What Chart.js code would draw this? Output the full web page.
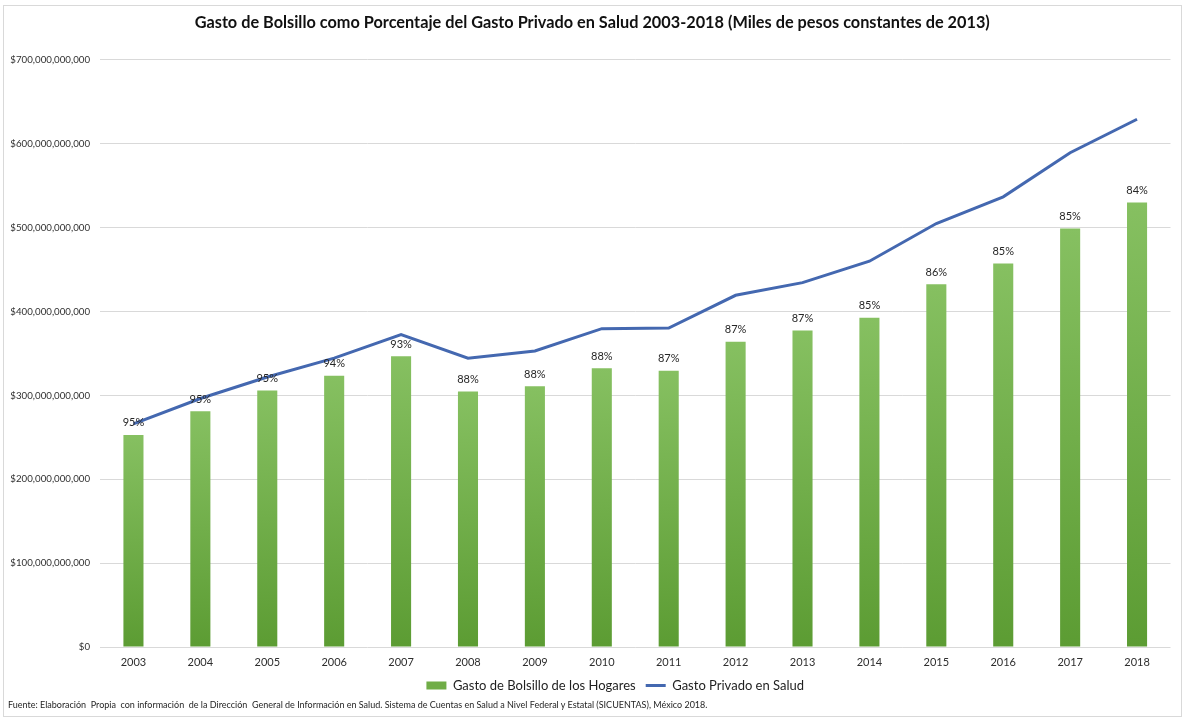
<!DOCTYPE html>
<html lang="es">
<head>
<meta charset="utf-8">
<title>Gasto de Bolsillo como Porcentaje del Gasto Privado en Salud 2003-2018</title>
<script src="https://cdn.jsdelivr.net/npm/chart.js@4.4.1/dist/chart.umd.min.js"></script>
<style>
  html, body { margin: 0; padding: 0; background: #ffffff; }
  body { width: 1185px; height: 719px; position: relative; overflow: hidden; font-family: Lato, "Noto Sans", sans-serif; }
  #frame { position: absolute; left: 3px; top: 5px; width: 1177px; height: 710px; border: 1px solid #d9d9d9; pointer-events: none; }
  #wrap { position: absolute; left: 0; top: 0; width: 1185px; height: 702px; }
  #fuente { position: absolute; left: 8px; top: 699px; font-size: 9px; color: #1f1f1f; white-space: pre; font-family: Lato, sans-serif; }
</style>
</head>
<body>
<div id="frame"></div>
<div id="wrap"><canvas id="chart"></canvas></div>
<div id="fuente">Fuente: Elaboración  Propia  con información  de la Dirección  General de Información en Salud. Sistema de Cuentas en Salud a Nivel Federal y Estatal (SICUENTAS), México 2018.</div>
<script>
// Años del periodo
const years = ['2003', '2004', '2005', '2006', '2007', '2008', '2009', '2010',
               '2011', '2012', '2013', '2014', '2015', '2016', '2017', '2018'];

// Gasto de bolsillo de los hogares (pesos constantes de 2013)
const gastoBolsillo = [252.9e9, 281.1e9, 306.0e9, 323.5e9, 346.8e9, 304.7e9, 311.0e9, 332.5e9,
                       329.4e9, 364.0e9, 377.5e9, 392.7e9, 432.5e9, 457.2e9, 499.0e9, 530.1e9];

// Gasto privado en salud (pesos constantes de 2013)
const gastoPrivado = [266.1e9, 296.3e9, 322.0e9, 344.5e9, 372.4e9, 344.4e9, 353.0e9, 379.6e9,
                      380.3e9, 419.4e9, 434.5e9, 460.0e9, 505.0e9, 536.8e9, 589.4e9, 629.3e9];

// Escala del eje de valores
const yMin = 0;
const yMax = 700e9;
const yStep = 100e9;

const FONT = 'Lato';
const TEXT = '#2e2e2e';
const GREEN_TOP = '#86c061';
const GREEN_BOTTOM = '#5c9c33';
const GREEN_MID = '#70ad47';
const BLUE = '#4468b0';

// Porcentaje que representa el gasto de bolsillo dentro del gasto privado
const porcentaje = gastoBolsillo.map((v, i) => Math.round(v / gastoPrivado[i] * 100) + '%');

const fmtPesos = v => '$' + Math.round(v).toLocaleString('en-US');

// Degradado vertical de cada barra
function barGradient(ctx) {
  const chart = ctx.chart;
  const area = chart.chartArea;
  if (!area || ctx.type !== 'data') return GREEN_MID;
  const yScale = chart.scales.y;
  const top = yScale.getPixelForValue(ctx.raw);
  const bottom = yScale.getPixelForValue(0);
  if (!isFinite(top) || bottom - top < 1) return GREEN_MID;
  const g = chart.ctx.createLinearGradient(0, top, 0, bottom);
  g.addColorStop(0, GREEN_TOP);
  g.addColorStop(1, GREEN_BOTTOM);
  return g;
}

// Etiquetas de porcentaje sobre las barras
const percentLabels = {
  id: 'percentLabels',
  afterDatasetsDraw(chart) {
    const meta = chart.getDatasetMeta(0);
    const c = chart.ctx;
    c.save();
    c.font = '11px ' + FONT;
    c.fillStyle = '#262626';
    c.textAlign = 'center';
    c.textBaseline = 'middle';
    meta.data.forEach((bar, i) => {
      c.fillText(porcentaje[i], bar.x, bar.y - 12);
    });
    c.restore();
  }
};

// Título y leyenda centrados con un ligero desplazamiento a la derecha
const blockOffset = {
  id: 'blockOffset',
  afterLayout(chart) {
    if (chart.legend) chart.legend.left = 60;
    if (chart.titleBlock) chart.titleBlock.left = 14;
  }
};

new Chart(document.getElementById('chart'), {
  type: 'bar',
  data: {
    labels: years,
    datasets: [
      {
        type: 'bar',
        label: 'Gasto de Bolsillo de los Hogares',
        data: gastoBolsillo,
        backgroundColor: barGradient,
        borderWidth: 0,
        categoryPercentage: 1.0,
        barPercentage: 0.3
      },
      {
        type: 'line',
        label: 'Gasto Privado en Salud',
        data: gastoPrivado,
        borderColor: BLUE,
        backgroundColor: BLUE,
        borderWidth: 3,
        pointRadius: 0,
        pointHoverRadius: 0,
        tension: 0,
        fill: false
      }
    ]
  },
  options: {
    responsive: true,
    maintainAspectRatio: false,
    animation: false,
    layout: { padding: { left: 0, right: 14.5, top: 0, bottom: 0 } },
    scales: {
      x: {
        afterFit(scale) { scale.height = 22; },
        grid: { display: false, drawTicks: false },
        border: { display: false },
        ticks: { color: TEXT, font: { family: FONT, size: 11 }, padding: 9 }
      },
      y: {
        min: yMin,
        max: yMax,
        afterFit(scale) { scale.width = 100; },
        grid: { color: '#d9d9d9', lineWidth: 1, drawTicks: false },
        border: { display: false },
        ticks: {
          stepSize: yStep,
          color: TEXT,
          padding: 10,
          font: { family: FONT, size: 9.7 },
          callback: v => fmtPesos(v)
        }
      }
    },
    plugins: {
      title: {
        display: true,
        text: 'Gasto de Bolsillo como Porcentaje del Gasto Privado en Salud 2003-2018 (Miles de pesos constantes de 2013)',
        color: '#111111',
        font: { family: FONT, size: 16.3, weight: 'bold' },
        padding: { top: 13, bottom: 27.4 }
      },
      legend: {
        position: 'bottom',
        labels: {
          usePointStyle: true,
          pointStyleWidth: 20,
          boxHeight: 8,
          padding: 10,
          color: '#1f1f1f',
          font: { family: FONT, size: 13 },
          generateLabels(chart) {
            const items = Chart.defaults.plugins.legend.labels.generateLabels(chart);
            items.sort((a, b) => a.datasetIndex - b.datasetIndex);
            items.forEach(it => {
              if (it.datasetIndex === 0) {
                it.pointStyle = 'rect';
                it.fillStyle = GREEN_MID;
                it.strokeStyle = GREEN_MID;
                it.lineWidth = 0;
              } else {
                it.pointStyle = 'line';
                it.fillStyle = BLUE;
                it.strokeStyle = BLUE;
                it.lineWidth = 3;
              }
            });
            return items;
          }
        }
      },
      tooltip: { enabled: false }
    }
  },
  plugins: [percentLabels, blockOffset]
});
</script>
</body>
</html>
